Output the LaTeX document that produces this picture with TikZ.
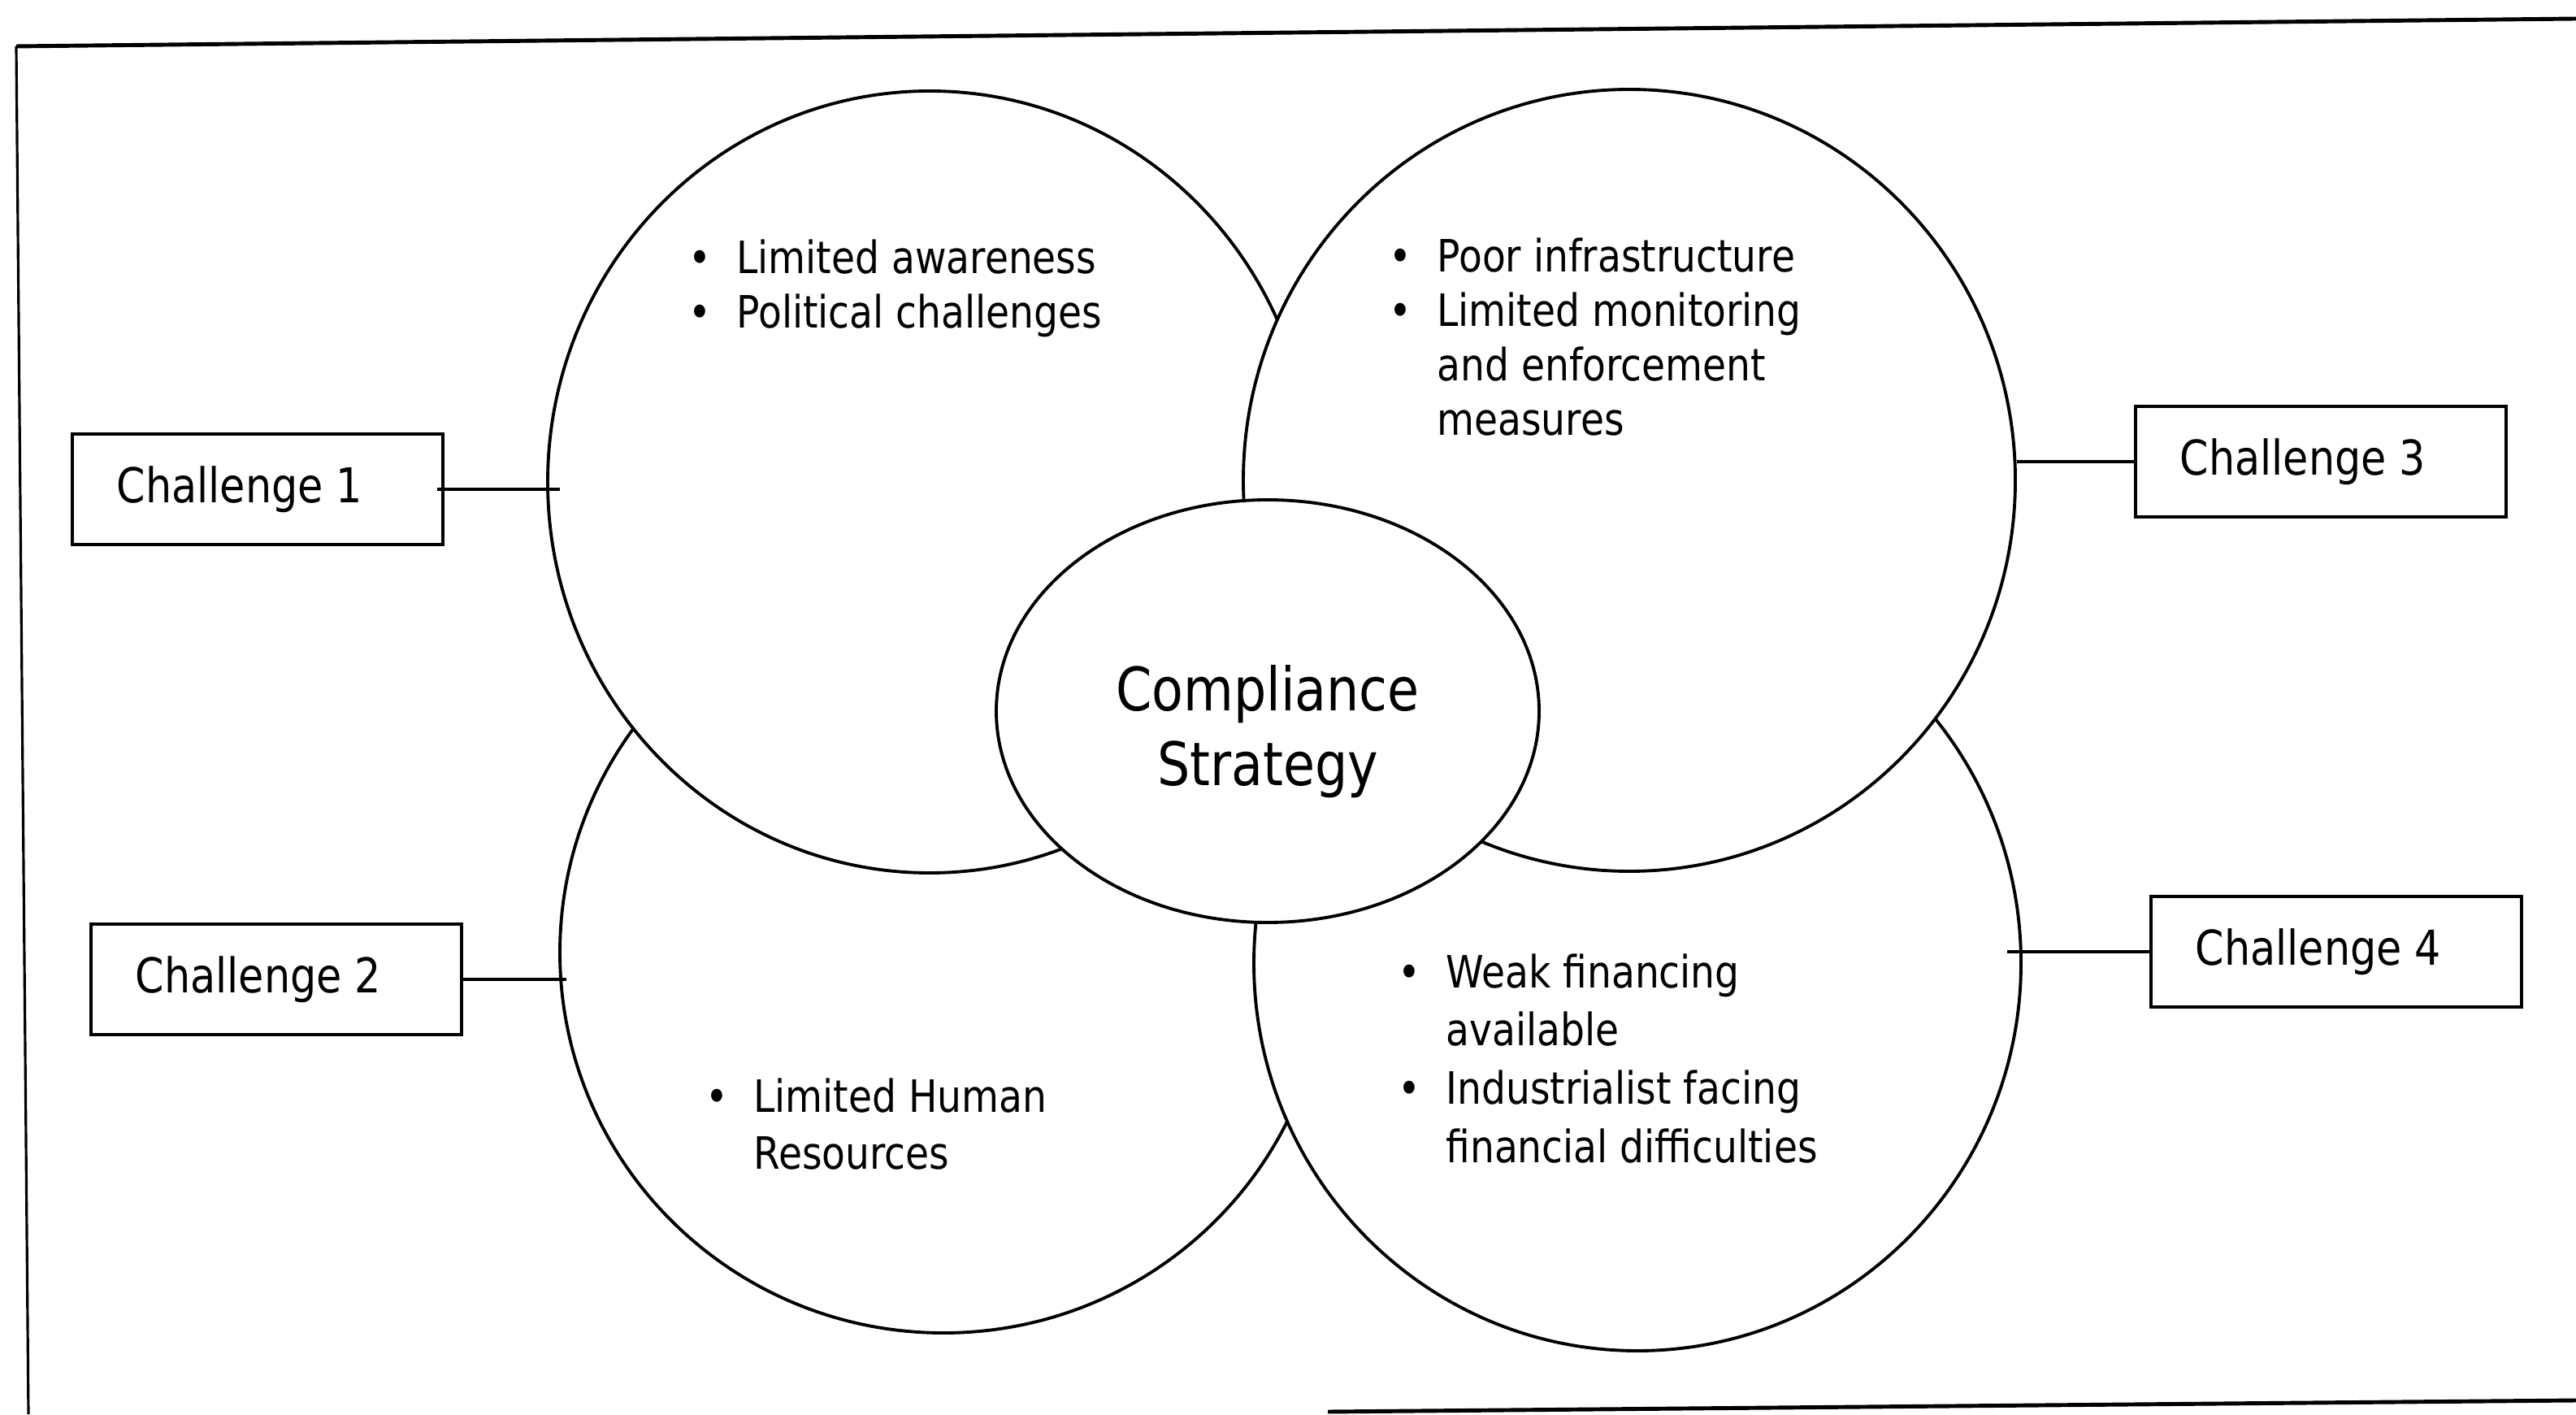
\documentclass[tikz,border=0pt]{standalone}
\usepackage{fontspec}
\setmainfont{DejaVu Sans}[FakeStretch=0.86]
\usepackage{tikz}
\usetikzlibrary{shapes.geometric}

\tikzset{
  blob/.style={draw, ellipse, fill=white, line width=1.1pt, inner sep=0pt},
  chbox/.style={draw, rectangle, line width=1.1pt, minimum width=4.56cm, minimum height=1.36cm, inner sep=0pt, font=\fontsize{16.8}{20}\selectfont, execute at end node=\hspace{0.44cm}},
  pts/.style={anchor=base west, inner sep=0pt, font=\fontsize{15.6}{19}\selectfont},
  link/.style={line width=1pt}
}
\newcommand{\bul}{\textbullet}

\begin{document}
\begin{tikzpicture}
\useasboundingbox (0,0) rectangle (31.7,17.4);
% frame
\draw [line width=1.4pt] (0.20,16.83) -- (31.7,17.17);
\draw [line width=0.9pt] (0.20,16.83) -- (0.35,0);
\draw [line width=1.4pt] (16.34,0.03) -- (31.7,0.17);
% circles
\node [blob, minimum width=9.44cm, minimum height=9.36cm] (blc) at (11.61,5.68) {};
\node [blob, minimum width=9.44cm, minimum height=9.54cm] (brc) at (20.15,5.55) {};
\node [blob, minimum width=9.40cm, minimum height=9.62cm] (tlc) at (11.44,11.47) {};
\node [blob, minimum width=9.50cm, minimum height=9.62cm] (trc) at (20.05,11.49) {};
\node [blob, minimum width=6.68cm, minimum height=5.20cm] (core) at (15.60,8.65) {};
\node [font=\fontsize{21}{26}\selectfont, align=center] (corelbl) at ([yshift=-0.25cm]core.center) {Compliance\\Strategy};
% points
\node [pts] (tlpts) at (8.47,14.03) {\begin{tabular}[t]{@{}c@{\hspace{8.8pt}}l@{}}
\bul & Limited awareness\\
\bul & Political challenges
\end{tabular}};
\node [pts] (trpts) at (17.09,14.05) {\begin{tabular}[t]{@{}c@{\hspace{8.8pt}}l@{}}
\bul & Poor infrastructure\\
\bul & Limited monitoring\\
 & and enforcement\\
 & measures
\end{tabular}};
\node [pts, font=\fontsize{15.6}{20}\selectfont] (blpts) at (8.68,3.72) {\begin{tabular}[t]{@{}c@{\hspace{8.8pt}}l@{}}
\bul & Limited Human\\
 & Resources
\end{tabular}};
\node [pts, font=\fontsize{15.6}{20.4}\selectfont] (brpts) at (17.20,5.25) {\begin{tabular}[t]{@{}c@{\hspace{8.8pt}}l@{}}
\bul & Weak financing\\
 & available\\
\bul & Industrialist facing\\
 & financial difficulties
\end{tabular}};
% challenges
\node [chbox] (ch1) at (3.17,11.38) {Challenge 1};
\node [chbox] (ch2) at (3.40,5.35) {Challenge 2};
\node [chbox] (ch3) at (28.56,11.72) {Challenge 3};
\node [chbox] (ch4) at (28.75,5.69) {Challenge 4};
% links
\draw [link] ([xshift=-0.09cm]ch1.east) -- ([xshift=0.17cm]ch1.east -| tlc.west);
\draw [link] (ch2.east) -- ([xshift=0.1cm]ch2.east -| blc.west);
\draw [link] (ch3.west -| trc.east) -- (ch3.west);
\draw [link] ([xshift=-0.19cm]ch4.west -| brc.east) -- (ch4.west);
\end{tikzpicture}
\end{document}
